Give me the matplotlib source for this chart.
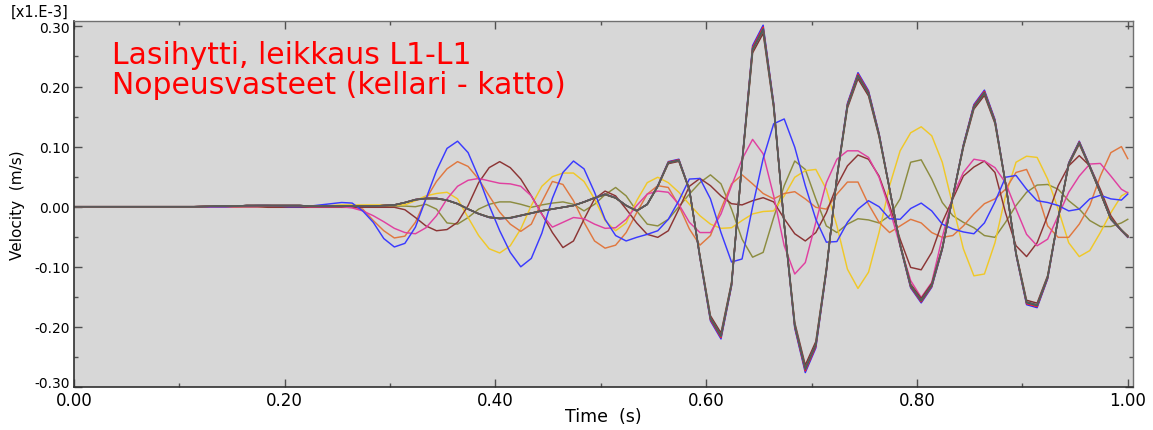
import matplotlib
matplotlib.use("Agg")
import matplotlib.pyplot as plt
import numpy as np
from matplotlib.ticker import MultipleLocator, FormatStrFormatter

plt.rcParams['font.family'] = ['DejaVu Sans']
plt.rcParams['axes.unicode_minus'] = False

# sample times (s): output every 0.01 s, last frame at 1.0 s
time = np.concatenate(([0.0], np.arange(1, 100) * 0.01 + 0.004, [1.0]))

# velocity, x1.E-3 m/s
# group of floors that move together
bundle = ([0.0] * 12 + [0.0005, 0.001, 0.001, 0.001, 0.002, 0.002, 0.002, 0.002,
          0.002, 0.002, 0.001, 0.001, 0.001] +
          [0.001, 0.001, 0.001, 0.001, 0.002, 0.003, 0.007, 0.012, 0.014, 0.014,
           0.011, 0.005, -0.004, -0.012, -0.018, -0.020, -0.019, -0.015, -0.011, -0.007,
           -0.004, -0.001, 0.002, 0.008, 0.015, 0.021, 0.015, 0.002, -0.007, 0.004,
           0.035, 0.075, 0.079, 0.029, -0.085, -0.190, -0.220, -0.132, 0.075, 0.268,
           0.302, 0.172, -0.030, -0.202, -0.276, -0.235, -0.108, 0.050, 0.172, 0.223,
           0.193, 0.122, 0.030, -0.065, -0.135, -0.160, -0.134, -0.071, 0.017, 0.103,
           0.170, 0.194, 0.145, 0.040, -0.080, -0.163, -0.168, -0.120, -0.020, 0.073,
           0.109, 0.068, 0.024, -0.021, -0.040, -0.051])
bundle_gain = [0.955, 0.985, 1.0, 0.99, 0.975, 0.98, 0.97]
bundle_color = ['#803030', '#20a020', '#2b2bff', '#ff2020', '#e07030', '#306868', '#5a5a5a']

blue = ([0.0] * 15 + [0.001, 0.001, 0.002, 0.002, 0.001, 0.0, 0.0, 0.001, 0.003, 0.005] +
        [0.007, 0.006, -0.007, -0.026, -0.053, -0.067, -0.061, -0.034, 0.013, 0.060,
         0.097, 0.109, 0.090, 0.049, 0.002, -0.040, -0.076, -0.100, -0.086, -0.044,
         0.014, 0.057, 0.076, 0.063, 0.024, -0.021, -0.048, -0.057, -0.051, -0.046,
         -0.040, -0.021, 0.010, 0.046, 0.047, 0.013, -0.043, -0.092, -0.087, 0.000,
         0.080, 0.138, 0.146, 0.099, 0.035, -0.021, -0.059, -0.058, -0.026, -0.004,
         0.010, 0.000, -0.020, -0.021, -0.003, 0.006, -0.007, -0.029, -0.037, -0.042,
         -0.045, -0.027, 0.008, 0.049, 0.052, 0.029, 0.010, 0.007, 0.002, -0.007,
         -0.004, 0.013, 0.019, 0.013, 0.011, 0.021])

orange = ([0.0] * 16 + [0.001, 0.001, 0.001, 0.001, 0.001, 0.0, 0.0, 0.0, 0.0] +
          [-0.001, -0.001, -0.004, -0.023, -0.040, -0.052, -0.049, -0.026, 0.013, 0.042,
           0.063, 0.075, 0.067, 0.046, 0.018, -0.009, -0.029, -0.041, -0.029, 0.008,
           0.042, 0.037, 0.010, -0.026, -0.057, -0.069, -0.064, -0.043, -0.010, 0.021,
           0.035, 0.032, 0.002, -0.037, -0.064, -0.048, -0.004, 0.038, 0.053, 0.038,
           0.022, 0.013, 0.022, 0.025, 0.013, -0.001, -0.004, 0.021, 0.041, 0.041,
           0.004, -0.026, -0.043, -0.032, -0.021, -0.027, -0.043, -0.051, -0.048, -0.032,
           -0.012, 0.005, 0.013, 0.029, 0.057, 0.062, 0.024, -0.032, -0.051, -0.051,
           -0.029, 0.002, 0.051, 0.090, 0.100, 0.080])

pink = ([0.0] * 18 + [0.001, 0.001, 0.001, 0.001, 0.0, 0.0, 0.0] +
        [0.000, -0.002, -0.007, -0.015, -0.025, -0.036, -0.043, -0.045, -0.035, -0.015,
         0.013, 0.034, 0.044, 0.047, 0.043, 0.039, 0.038, 0.034, 0.018, -0.013,
         -0.034, -0.026, -0.018, -0.020, -0.029, -0.036, -0.035, -0.021, 0.002, 0.021,
         0.026, 0.024, 0.004, -0.026, -0.043, -0.043, -0.012, 0.035, 0.079, 0.112,
         0.088, 0.018, -0.065, -0.112, -0.093, -0.026, 0.040, 0.079, 0.093, 0.093,
         0.082, 0.049, -0.004, -0.065, -0.123, -0.151, -0.126, -0.051, 0.018, 0.057,
         0.079, 0.076, 0.065, 0.040, -0.004, -0.046, -0.065, -0.054, -0.015, 0.024,
         0.051, 0.071, 0.072, 0.051, 0.029, 0.023])

brown = ([0.0] * 18 + [-0.001, -0.001, -0.001, -0.001, -0.001, -0.001, -0.001] +
         [-0.001, -0.001, -0.001, -0.001, -0.001, -0.001, -0.005, -0.018, -0.032, -0.040,
          -0.038, -0.026, 0.002, 0.040, 0.065, 0.075, 0.065, 0.046, 0.018, -0.012,
          -0.043, -0.068, -0.057, -0.021, 0.013, 0.026, 0.018, -0.004, -0.027, -0.046,
          -0.051, -0.040, -0.004, 0.034, 0.047, 0.035, 0.018, 0.005, 0.003, 0.010,
          0.015, 0.008, -0.020, -0.045, -0.057, -0.043, -0.010, 0.035, 0.068, 0.086,
          0.079, 0.051, 0.002, -0.054, -0.101, -0.105, -0.076, -0.026, 0.013, 0.051,
          0.066, 0.076, 0.057, -0.010, -0.065, -0.083, -0.060, -0.015, 0.035, 0.068,
          0.085, 0.068, 0.029, -0.015, -0.040, -0.048])

olive = ([0.0] * 25 +
         [0.0, 0.0, 0.0, 0.0, 0.001, 0.001, 0.001, 0.000, 0.004, -0.004,
          -0.027, -0.029, -0.018, -0.004, 0.004, 0.008, 0.008, 0.004, -0.001, 0.003,
          0.006, 0.008, 0.004, -0.007, 0.004, 0.020, 0.032, 0.018, -0.007, -0.029,
          -0.032, -0.021, 0.000, 0.021, 0.040, 0.053, 0.038, -0.004, -0.054, -0.084,
          -0.076, -0.018, 0.035, 0.076, 0.062, 0.013, -0.032, -0.043, -0.029, -0.020,
          -0.022, -0.027, -0.015, 0.013, 0.074, 0.078, 0.046, 0.007, -0.015, -0.026,
          -0.035, -0.048, -0.051, -0.026, 0.002, 0.024, 0.036, 0.037, 0.029, 0.010,
          -0.004, -0.023, -0.033, -0.033, -0.027, -0.021])

yellow = ([0.0] * 20 + [0.001, 0.001, 0.001, 0.002, 0.002] +
          [0.003, 0.003, 0.003, 0.003, 0.003, 0.003, 0.003, 0.010, 0.018, 0.022,
           0.024, 0.013, -0.018, -0.048, -0.070, -0.077, -0.065, -0.037, 0.002, 0.034,
           0.050, 0.056, 0.056, 0.042, 0.013, -0.023, -0.040, -0.027, 0.010, 0.040,
           0.049, 0.040, 0.024, 0.004, -0.015, -0.029, -0.036, -0.035, -0.023, -0.012,
           -0.008, -0.007, 0.018, 0.049, 0.060, 0.062, 0.029, -0.032, -0.104, -0.136,
           -0.109, -0.043, 0.035, 0.093, 0.123, 0.133, 0.118, 0.074, 0.002, -0.070,
           -0.115, -0.112, -0.060, 0.018, 0.074, 0.084, 0.082, 0.046, -0.004, -0.060,
           -0.083, -0.073, -0.043, -0.010, 0.018, 0.024])

singles = [(olive, '#8c8c40'), (yellow, '#f0c828'), (orange, '#e07840'),
           (brown, '#8c3535'), (pink, '#e040a0'), (blue, '#3a3aff')]

W, H = 1153, 431
fig = plt.figure(figsize=(W / 100, H / 100), dpi=100)
ax = fig.add_axes([74 / W, 1 - 388 / H, (1133 - 74) / W, (388 - 22) / H])
ax.set_facecolor('#d7d7d7')

for vals, col in singles:
    ax.plot(time, vals, color=col, lw=1.05)

base = np.array(bundle)
for g, col in zip(bundle_gain, bundle_color):
    ax.plot(time, base * g, color=col, lw=1.05)

ax.set_xlim(0, 1.005)
ax.set_ylim(-0.30, 0.309)
ax.set_xticks(np.arange(0, 1.01, 0.2))
ax.set_yticks(np.arange(-0.3, 0.31, 0.1))
ax.xaxis.set_minor_locator(MultipleLocator(0.1))
ax.yaxis.set_minor_locator(MultipleLocator(0.05))
ax.xaxis.set_major_formatter(FormatStrFormatter('%.2f'))
ax.yaxis.set_major_formatter(FormatStrFormatter('%.2f'))
ax.tick_params(which='both', direction='in', top=True, right=True, color='#505050')
ax.tick_params(which='major', length=5.5, width=1.0)
ax.tick_params(which='minor', length=3.2, width=1.0)
ax.tick_params(axis='x', labelsize=12, pad=3)
ax.tick_params(axis='y', labelsize=10, pad=3)
ax.yaxis.get_major_ticks()[0].label1.set_verticalalignment('baseline')

for s in ['left', 'bottom']:
    ax.spines[s].set_color('#303030')
    ax.spines[s].set_linewidth(1.2)
for s in ['top', 'right']:
    ax.spines[s].set_color('#707070')
    ax.spines[s].set_linewidth(1.0)

fig.text(112 / W, 1 - 64 / H, 'Lasihytti, leikkaus L1-L1', color='red',
         fontsize=21.5, va='baseline')
fig.text(112 / W, 1 - 94 / H, 'Nopeusvasteet (kellari - katto)', color='red',
         fontsize=21.5, va='baseline')
fig.text(11 / W, 1 - 12.5 / H, '[x1.E-3]', fontsize=10.5, va='center')
fig.text(18 / W, 1 - 205 / H, 'Velocity  (m/s)', fontsize=11, rotation=90,
         ha='center', va='center')
fig.text(603 / W, 1 - 417 / H, 'Time  (s)', fontsize=12.5, ha='center', va='center')

fig.savefig('out.png', dpi=100)
